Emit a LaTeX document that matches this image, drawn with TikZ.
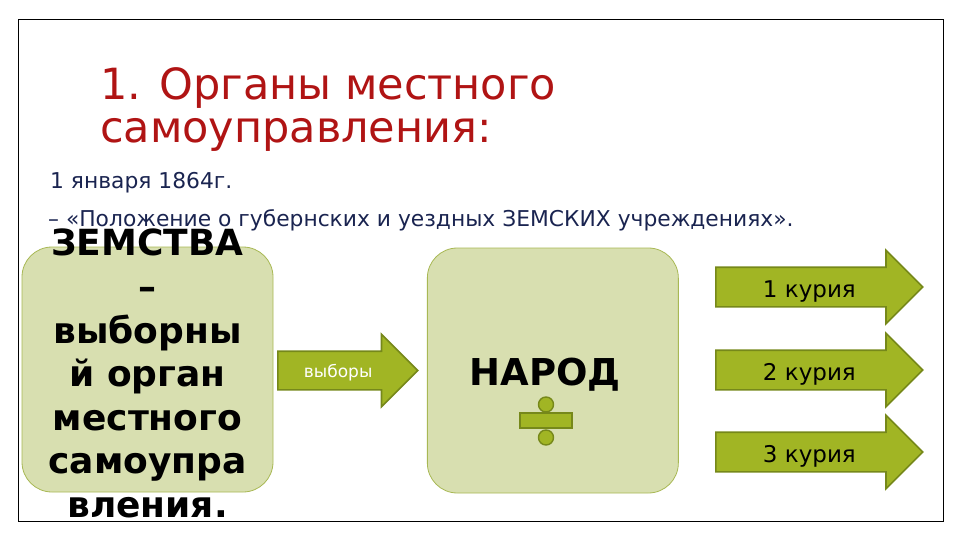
\documentclass[tikz,border=0pt]{standalone}
\usepackage{fontspec}
\setmainfont{DejaVu Sans}
\usepackage{xcolor}
\usepackage{tikz}
\usetikzlibrary{positioning, shapes.arrows}
\definecolor{panelfill}{RGB}{216,223,176}
\definecolor{paneldraw}{RGB}{168,184,84}
\definecolor{arrowfill}{RGB}{161,181,36}
\definecolor{arrowdraw}{RGB}{118,136,26}
\definecolor{titlered}{RGB}{176,20,20}
\definecolor{bodynavy}{RGB}{26,36,80}
\tikzset{
  panel/.style  = {rectangle, draw=paneldraw, fill=panelfill, line width=0.8pt,
                   rounded corners=30pt, minimum width=251pt, minimum height=245pt},
  curia/.style  = {single arrow, draw=arrowdraw, fill=arrowfill, line width=1.6pt,
                   single arrow head extend=17pt, single arrow tip angle=90,
                   text height=20pt, text depth=0pt, inner ysep=9pt, inner xsep=0pt},
  head/.style   = {font=\fontsize{43}{43}\selectfont, text=titlered, align=left, inner sep=0pt},
  body/.style   = {font=\fontsize{21.8}{26}\selectfont, text=bodynavy, inner sep=0pt},
  divsign/.style = {draw=arrowdraw, fill=arrowfill, line width=1.4pt, inner sep=0pt},
}

\begin{document}
\begin{tikzpicture}[x=1pt, y=-1pt]
  \useasboundingbox (0,0) rectangle (960,540);
  \draw[line width=0.9pt] (18,19) rectangle (943,521);

  \node[head, anchor=base west] (title) at (100,143) {1. Органы местного\\самоуправления:};
  \node[body, anchor=base west] (date) at (50,188) {1 января 1864г.};
  \node[body, anchor=base west] (act) at (48,226.5)
    {– «Положение о губернских и уездных ЗЕМСКИХ учреждениях».};

  \node[panel] (zemstvo) at (147.5,369.5) {};
  \node[align=center, font=\bfseries\fontsize{36}{43.6}\selectfont] (zemtext) at (147.5,373.5)
    {ЗЕМСТВА\\–\\выборны\\й орган\\местного\\самоупра\\вления.};

  \node[curia, anchor=tail, minimum height=140pt, text=white, text height=14pt, inner ysep=11.5pt,
        font=\fontsize{17}{20}\selectfont] (vote) at (277,370.5) {выборы};

  \node[panel, right=8pt of vote] (people) {};
  \node[font=\bfseries\fontsize{37}{44}\selectfont, anchor=base] (peopletext) at (545,385) {НАРОД};
  \node[divsign, circle, minimum size=15pt] (dotup) at (546,404.5) {};
  \node[divsign, rectangle, minimum width=52pt, minimum height=15pt] (bar) at (546,420.5) {};
  \node[divsign, circle, minimum size=15pt] (dotdown) at (546,437.5) {};

  \node[curia, anchor=tail, minimum height=207pt, font=\fontsize{23}{26}\selectfont] (curia1) at (715,287) {1 курия};
  \node[curia, anchor=tail, minimum height=207pt, font=\fontsize{23}{26}\selectfont] (curia2) at (715,370) {2 курия};
  \node[curia, anchor=tail, minimum height=207pt, font=\fontsize{23}{26}\selectfont] (curia3) at (715,452) {3 курия};
\end{tikzpicture}
\end{document}
